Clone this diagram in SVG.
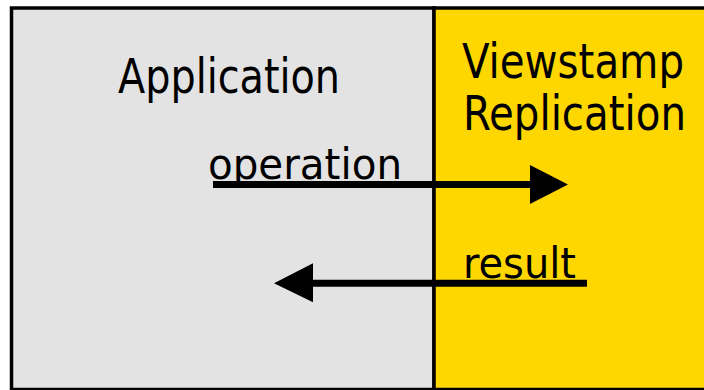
<svg xmlns="http://www.w3.org/2000/svg" width="704" height="390" viewBox="0 0 704 390">
<style>
.box{stroke:#000;stroke-width:3.5}
.lbl{font-family:"DejaVu Sans Condensed","DejaVu Sans","Liberation Sans",sans-serif;fill:#000}
.big{font-size:48px}
.small{font-size:42px}
.ln{stroke:#000;stroke-width:7;fill:none}
</style>
<rect width="704" height="390" fill="#fff"/>
<g id="application">
<rect class="box" x="11.5" y="8" width="422.5" height="381.5" fill="#E3E3E3"/>
<text class="lbl big" x="118" y="92.5" textLength="222" lengthAdjust="spacingAndGlyphs">Application</text>
</g>
<g id="vr">
<rect class="box" x="434" y="8" width="290" height="381.5" fill="#FFD700"/>
<text class="lbl big" x="462" y="77.5" textLength="222" lengthAdjust="spacingAndGlyphs">Viewstamp</text>
<text class="lbl big" x="463" y="130" textLength="223" lengthAdjust="spacingAndGlyphs">Replication</text>
</g>
<g id="connectors">
<text class="lbl small" x="208" y="179" textLength="194" lengthAdjust="spacingAndGlyphs">operation</text>
<line class="ln" x1="213" y1="184.5" x2="532" y2="184.5"/>
<polygon points="530,165 568,184.5 530,204"/>
<text class="lbl small" x="463" y="277.5" textLength="113" lengthAdjust="spacingAndGlyphs">result</text>
<line class="ln" x1="587" y1="283.3" x2="311" y2="283.3"/>
<polygon points="313,263.3 274,283.3 313,302.3"/>
</g>
</svg>
